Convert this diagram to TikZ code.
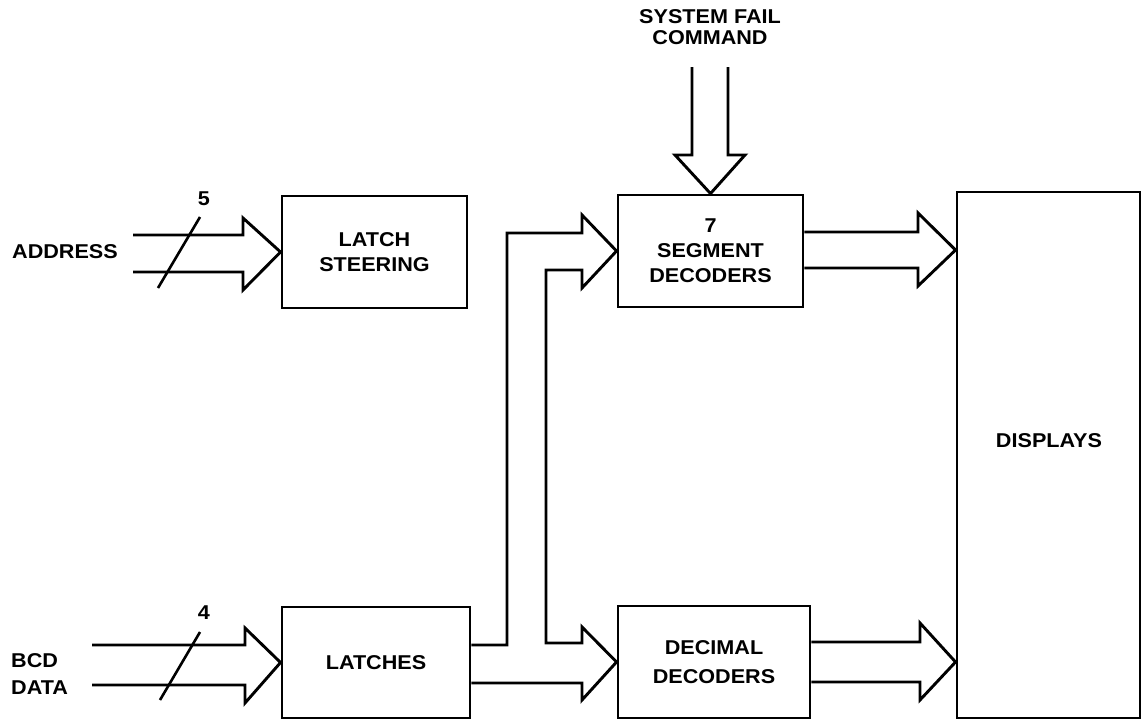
\documentclass[tikz,border=0pt]{standalone}
\usepackage{fontspec}
\newfontfamily\lab[FakeStretch=1.08]{Liberation Sans}
\begin{document}
\begin{tikzpicture}[x=1pt,y=-1pt,
  box/.style={draw,line width=2.9pt,rectangle,inner sep=0pt,font=\lab\bfseries\fontsize{20}{25}\selectfont,align=center},
  lbl/.style={inner sep=0pt,font=\lab\bfseries\fontsize{20}{25}\selectfont,align=center},
  bus/.style={draw,line width=2.9pt,line join=miter},
  slash/.style={draw,line width=2.6pt}]
\useasboundingbox (0,0) rectangle (1143,721);
% boxes
\node[box,minimum width=185pt,minimum height=112pt] (steer) at (374.5,252) {LATCH\\STEERING};
\node[box,minimum width=185pt,minimum height=112pt] (seg) at (710.5,251) {7\\SEGMENT\\DECODERS};
\node[box,minimum width=188pt,minimum height=111pt] (latch) at (376,662.5) {LATCHES};
\node[box,minimum width=192pt,minimum height=112pt,font=\lab\bfseries\fontsize{20}{29}\selectfont] (dec) at (714,662) {DECIMAL\\DECODERS};
\node[box,minimum width=183pt,minimum height=526pt] (disp) at (1048.5,455) {};
\node[lbl] (displbl) at (1049,441) {DISPLAYS};
% labels
\node[lbl,anchor=east] (addr) at (118,252) {ADDRESS};
\node[lbl,align=left,anchor=west,font=\lab\bfseries\fontsize{20}{27}\selectfont] (bcd) at (11,674) {BCD\\DATA};
\node[lbl,font=\lab\bfseries\fontsize{20}{21}\selectfont] (sf) at (710,27) {SYSTEM FAIL\\COMMAND};
\node[lbl] (n5) at (204,199) {5};
\node[lbl] (n4) at (204,613) {4};
% address bus
\coordinate (a1) at (133,235);
\coordinate (a2) at (133,272);
\draw[bus] (a1) -- (243,235) -- (243,218) -- (steer.west) -- (243,290) -- (243,272) -- (a2);
\draw[slash] (158,288) -- (200,217);
% bcd bus
\coordinate (b1) at (92,645);
\coordinate (b2) at (92,685);
\draw[bus] (b1) -- (245,645) -- (245,628) -- (latch.west) -- (245,703) -- (245,685) -- (b2);
\draw[slash] (160,700) -- (200,632);
% system fail
\coordinate (s1) at (692,67);
\coordinate (s2) at (728,67);
\draw[bus] (s1) -- (692,155) -- (675,155) -- (seg.north) -- (745,155) -- (728,155) -- (s2);
% latches to decoders
\draw[bus] (latch.east |- 0,645) -- (507,645) -- (507,233) -- (582,233) -- (582,215) -- (seg.west) -- (582,288) -- (582,270) -- (546,270) -- (546,643) -- (582,643) -- (582,627) -- (dec.west) -- (582,700) -- (582,683) -- (latch.east |- 0,683);
% decoders to displays
\draw[bus] (seg.east |- 0,232) -- (918,232) -- (918,213) -- (disp.west |- 0,250) -- (918,286) -- (918,268) -- (seg.east |- 0,268);
\draw[bus] (dec.east |- 0,642) -- (920,642) -- (920,623) -- (disp.west |- 0,662) -- (920,700) -- (920,682) -- (dec.east |- 0,682);
\end{tikzpicture}
\end{document}
